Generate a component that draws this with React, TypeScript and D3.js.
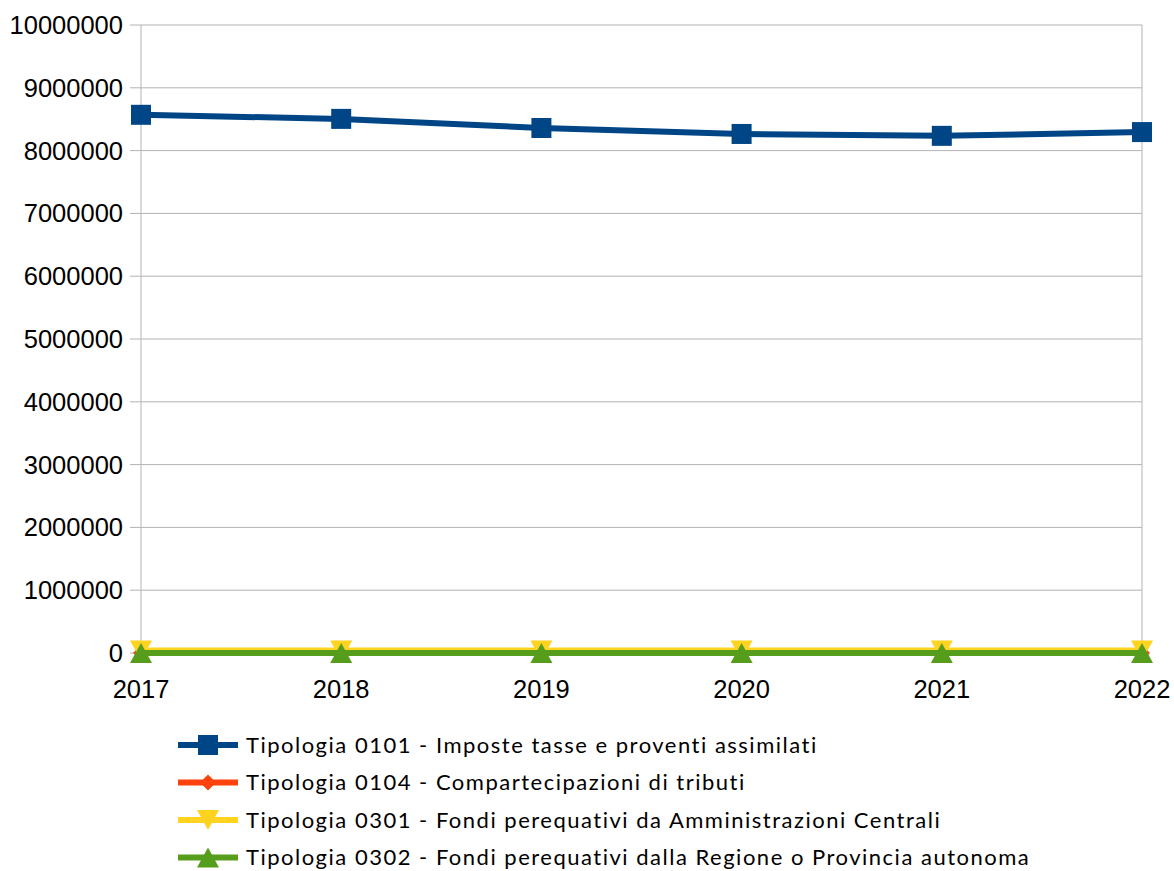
import React from "react";
import * as d3 from "d3";

const years = ["2017", "2018", "2019", "2020", "2021", "2022"];
const yTicks = [0, 1000000, 2000000, 3000000, 4000000, 5000000, 6000000, 7000000, 8000000, 9000000, 10000000];
const s0101 = [8570000, 8505000, 8360000, 8265000, 8235000, 8295000];
const s0104 = [0, 0, 0, 0, 0, 0];
const s0301 = [40000, 40000, 40000, 40000, 40000, 40000];
const s0302 = [0, 0, 0, 0, 0, 0];
const names = [
  "Tipologia 0101 - Imposte tasse e proventi assimilati",
  "Tipologia 0104 - Compartecipazioni di tributi",
  "Tipologia 0301 - Fondi perequativi da Amministrazioni Centrali",
  "Tipologia 0302 - Fondi perequativi dalla Regione o Provincia autonoma",
];
const colors = ["#004586", "#ff420e", "#ffd320", "#579d1c"];
const symbols = ["square", "diamond", "down", "up"];

const W = 1174, H = 871;
const left = 141, right = 1142, top = 25, bottom = 653;

function Marker({ type, x, y, color }: { type: string; x: number; y: number; color: string }) {
  if (type === "square") return <rect x={x - 10} y={y - 10} width={20} height={20} fill={color} />;
  if (type === "diamond") return <path d={`M${x},${y - 8} L${x + 8},${y} L${x},${y + 8} L${x - 8},${y} Z`} fill={color} />;
  if (type === "down") return <path d={`M${x - 11},${y - 10} L${x + 11},${y - 10} L${x},${y + 10} Z`} fill={color} />;
  return <path d={`M${x - 11},${y + 10} L${x + 11},${y + 10} L${x},${y - 10} Z`} fill={color} />;
}

export default function App() {
  const x = d3.scalePoint<string>().domain(years).range([left, right]);
  const y = d3.scaleLinear().domain([0, 10000000]).range([bottom, top]);
  const series = [s0101, s0104, s0301, s0302];
  const line = d3.line<number>().x((_, i) => x(years[i])!).y((d) => y(d));
  return (
    <svg width={W} height={H} style={{ position: "absolute", left: 0, top: 0, background: "#fff" }}>
      {yTicks.map((t) => (
        <g key={t}>
          <line x1={left - 11} x2={right} y1={y(t)} y2={y(t)} stroke="#b3b3b3" strokeWidth={1} />
          <text x={left - 18} y={y(t)} dy="0.35em" textAnchor="end" fontFamily="Liberation Sans" fontSize={25.5} fill="#000">{t}</text>
        </g>
      ))}
      <line x1={left} x2={left} y1={top} y2={bottom} stroke="#b3b3b3" strokeWidth={1} />
      <line x1={right} x2={right} y1={top} y2={bottom} stroke="#b3b3b3" strokeWidth={1} />
      {years.map((yr) => (
        <g key={yr}>
          <text x={x(yr)} y={bottom + 45} textAnchor="middle" fontFamily="Liberation Sans" fontSize={25.5} fill="#000">{yr}</text>
        </g>
      ))}
      {series.map((s, si) => (
        <g key={si}>
          <path d={line(s)!} fill="none" stroke={colors[si]} strokeWidth={6} strokeLinejoin="round" />
          {s.map((v, i) => (
            <Marker key={i} type={symbols[si]} x={x(years[i])!} y={y(v)} color={colors[si]} />
          ))}
        </g>
      ))}
      {names.map((n, i) => {
        const ly = 745 + i * 37.5;
        return (
          <g key={n}>
            <line x1={178} x2={238} y1={ly} y2={ly} stroke={colors[i]} strokeWidth={6} />
            <Marker type={symbols[i]} x={208} y={ly} color={colors[i]} />
            <text x={246} y={ly} dy="0.35em" fontFamily="Lato" fontSize={22} letterSpacing={1.5} fill="#000">{n}</text>
          </g>
        );
      })}
    </svg>
  );
}
